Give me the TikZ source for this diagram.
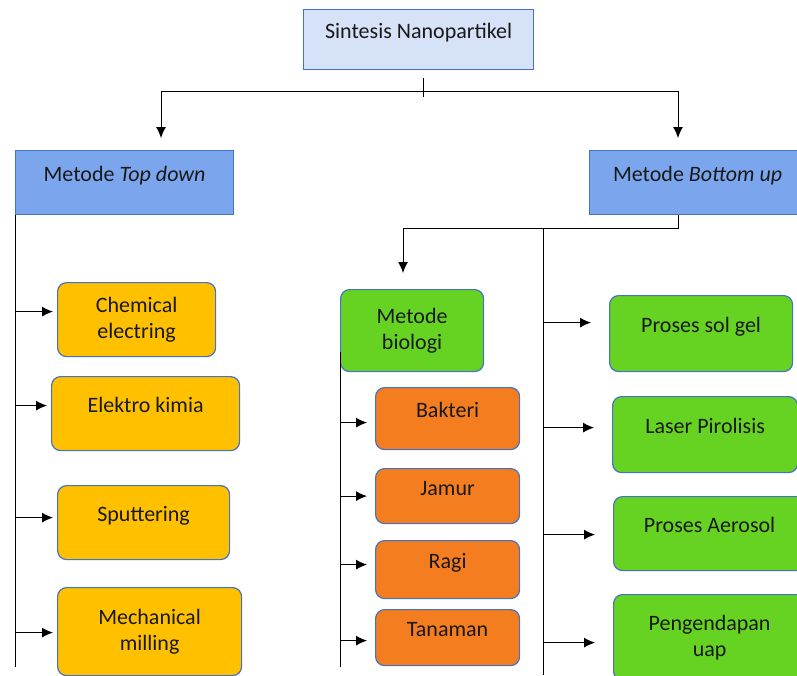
\documentclass[tikz,border=0pt]{standalone}
\usepackage{fontspec}
\setmainfont{Carlito}
\usepackage{tikz}
\definecolor{kantenblau}{RGB}{68,114,196}
\definecolor{hellblau}{RGB}{214,226,247}
\definecolor{mittelblau}{RGB}{123,166,238}
\definecolor{goldgelb}{RGB}{255,192,0}
\definecolor{hellgruen}{RGB}{102,211,34}
\definecolor{orangerot}{RGB}{244,125,32}
\usetikzlibrary{arrows.meta}

\begin{document}
\begin{tikzpicture}[x=1pt, y=-1pt,
        >={Latex[length=11pt,width=10pt]},   %Pfeilspitzen
        kasten/.style={draw=kantenblau, line width=1.2pt, inner sep=0pt, align=center, anchor=north west, text=black!90},
        rund/.style={kasten, rounded corners=9pt},
        einzeilig/.style={text height=12pt, text depth=14pt},
        line width=1pt,
        font=\fontsize{22}{26}\selectfont]
        %Bildbereich
        \useasboundingbox (0,0) rectangle (797,675);
        \clip (0,0) rectangle (797,675);
        % Kaesten oben
        \node[kasten, einzeilig, fill=hellblau, minimum width=230, minimum height=60] (sint) at (303,9) {Sintesis Nanopartikel};
        \node[kasten, einzeilig, fill=mittelblau, minimum width=218, minimum height=64] (tdown) at (15,150) {Metode \textit{Top down}};
        \node[kasten, einzeilig, fill=mittelblau, minimum width=216, minimum height=64] (bup) at (589,150) {Metode \textit{Bottom up}};
        % Top down
        \node[rund, fill=goldgelb, minimum width=158, minimum height=74] (chem) at (57,282) {Chemical\\electring};
        \node[rund, einzeilig, fill=goldgelb, minimum width=188, minimum height=74] (elek) at (51,376) {Elektro kimia};
        \node[rund, einzeilig, fill=goldgelb, minimum width=172, minimum height=74] (sput) at (57,485) {Sputtering};
        \node[rund, fill=goldgelb, minimum width=184, minimum height=88] (mech) at (57,587) {Mechanical\\milling};
        % Bottom up, biologisch
        \node[rund, fill=hellgruen, minimum width=143, minimum height=82] (bio) at (340,289) {Metode\\biologi};
        \node[rund, einzeilig, fill=orangerot, minimum width=144, minimum height=62] (bak) at (375,387) {Bakteri};
        \node[rund, einzeilig, fill=orangerot, minimum width=144, minimum height=55] (jam) at (375,468) {Jamur};
        \node[rund, einzeilig, fill=orangerot, minimum width=144, minimum height=58] (ragi) at (375,540) {Ragi};
        \node[rund, einzeilig, fill=orangerot, minimum width=144, minimum height=56] (tan) at (375,609) {Tanaman};
        % Bottom up, rechts
        \node[rund, einzeilig, fill=hellgruen, minimum width=183, minimum height=76] (solgel) at (609,295) {Proses sol gel};
        \node[rund, einzeilig, fill=hellgruen, minimum width=185, minimum height=76] (laser) at (612,396) {Laser Pirolisis};
        \node[rund, einzeilig, fill=hellgruen, minimum width=192, minimum height=74] (aero) at (613,496) {Proses Aerosol};
        \node[rund, fill=hellgruen, minimum width=192, minimum height=86] (peng) at (613,594) {Pengendapan\\uap};
        % Verzweigung oben
        \coordinate (strichO) at (423,78);
        \coordinate (strichU) at (423,97);
        \coordinate (astL) at (161,91);
        \coordinate (astR) at (678,91);
        \draw (strichO) -- (strichU);
        \draw (astL) -- (astR);
        \draw[->, shorten >=12pt] (astL) -- (astL |- tdown.north);
        \draw[->, shorten >=12pt] (astR) -- (astR |- bup.north);
        % Stamm Top down
        \coordinate (tdEnde) at (15,667);
        \draw (tdown.south west) -- (tdEnde);
        \foreach \z/\d in {chem/8, elek/8, sput/5, mech/-1}
            \draw[->, shorten >=4pt] ([yshift=\d pt]tdEnde |- \z.west) -- ([yshift=\d pt]\z.west);
        % Stamm Bottom up
        \coordinate (buKnick) at (678,228);
        \coordinate (bioKnick) at (403,228);
        \coordinate (buStamm) at (543,228);
        \coordinate (buEnde) at (543,675);
        \draw (astR |- bup.south) -- (buKnick) -- (bioKnick);
        \draw[->, shorten >=16pt] (bioKnick) -- (bioKnick |- bio.north);
        \draw (buStamm) -- (buEnde);
        \foreach \z/\d in {solgel/11, laser/7, aero/-1, peng/-5}
            \draw[->, shorten >=18pt] ([yshift=\d pt]buEnde |- \z.west) -- ([yshift=\d pt]\z.west);
        % Stamm biologi
        \coordinate (bioStart) at (340,352);
        \coordinate (bioEnde) at (340,667);
        \draw (bioStart) -- (bioEnde);
        \foreach \z/\d in {bak/-4, jam/0, ragi/5, tan/-3}
            \draw[->, shorten >=8pt] ([yshift=\d pt]bioEnde |- \z.west) -- ([yshift=\d pt]\z.west);
    \end{tikzpicture}
\end{document}
